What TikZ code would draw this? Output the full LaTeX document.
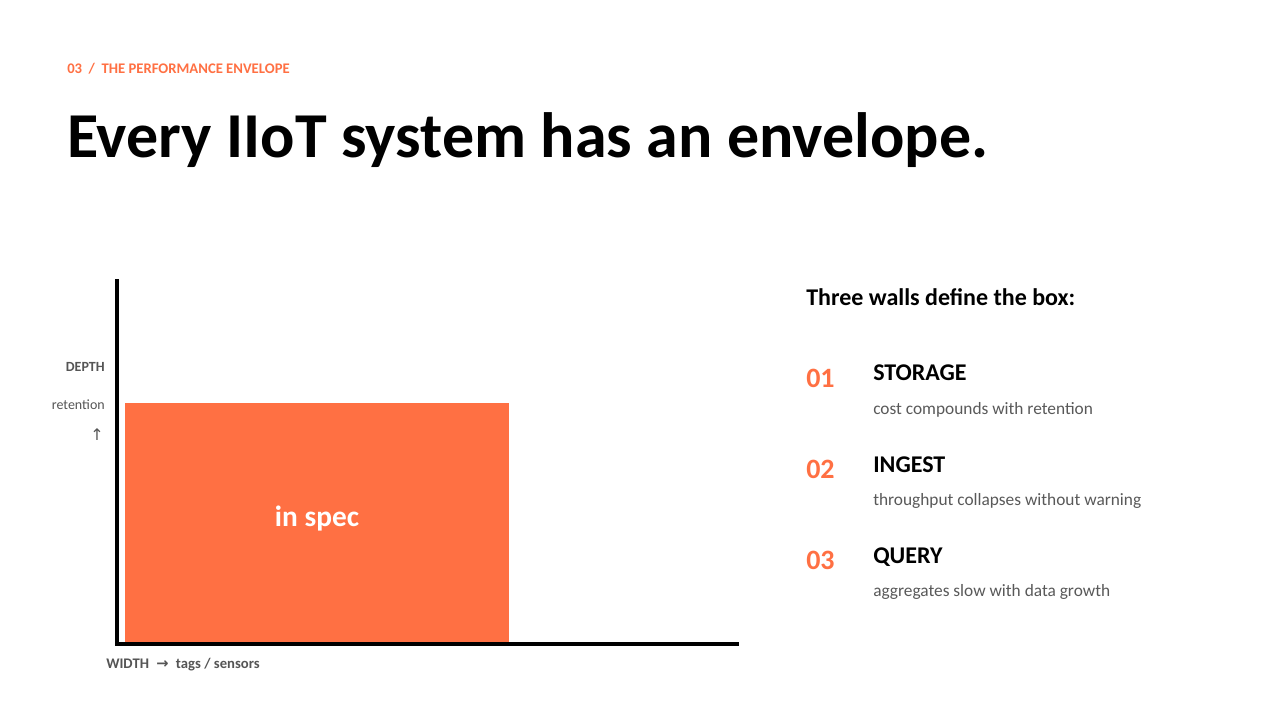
\documentclass[tikz,border=0pt]{standalone}
\usepackage{fontspec}
\setmainfont{Carlito}
\newfontfamily\symfont{DejaVu Sans}
\definecolor{accent}{HTML}{FF7043}
\definecolor{bodygray}{HTML}{595959}
\definecolor{labelgray}{HTML}{555555}
\tikzset{
  px/.style={x=0.75pt,y=-0.75pt},
  kicker/.style={anchor=west,inner sep=0pt,text=accent,font=\fontsize{11}{13}\selectfont\bfseries},
  title/.style={anchor=base west,inner sep=0pt,font=\fontsize{48}{58}\selectfont\bfseries},
  axislabel/.style={inner sep=0pt,text=labelgray,font=\fontsize{10.5}{12}\selectfont},
  axis/.style={line width=3pt},
  heading/.style={anchor=west,inner sep=0pt,font=\fontsize{18}{22}\selectfont\bfseries},
  num/.style={anchor=west,inner sep=0pt,text=accent,font=\fontsize{21}{25}\selectfont\bfseries},
  wall/.style={anchor=west,inner sep=0pt,font=\fontsize{18}{22}\selectfont\bfseries},
  desc/.style={anchor=west,inner sep=0pt,text=bodygray,font=\fontsize{13}{16}\selectfont},
}
\begin{document}
\begin{tikzpicture}[px]
\useasboundingbox[fill=white] (0,0) rectangle (1280,720);
\node[kicker] (kick) at (67,69) {03\hspace{0.45em}/\hspace{0.45em}THE PERFORMANCE ENVELOPE};
\node[title] (ttl) at (67,158) {Every IIoT system has an envelope.};
% chart
\fill[accent] (125,403) rectangle (509,642);
\node[text=white,font=\fontsize{22}{26}\selectfont\bfseries] (spec) at (317,519) {in spec};
\coordinate (ytop) at (117,279);
\coordinate (origin) at (117,644);
\coordinate (xend) at (739,644);
\draw[axis] (ytop) -- (origin.center) -- (xend);
\node[axislabel,anchor=east,font=\fontsize{10.5}{12}\selectfont\bfseries] (depth) at (105,367) {DEPTH};
\node[axislabel,anchor=east] (ret) at (105,405) {retention};
\node[axislabel,anchor=east,font=\fontsize{12}{14}\symfont] (up) at (104,435) {↑};
\node[axislabel,anchor=west,font=\fontsize{11}{13}\selectfont\bfseries] (width) at (106,665) {WIDTH\hspace{0.5em}{\symfont →}\hspace{0.5em}tags / sensors};
% right
\node[heading] (head) at (806,297) {Three walls define the box:};
\node[num] (n1) at (806,378) {01};
\node[wall] (w1) at (873,373) {STORAGE};
\node[desc] (d1) at (873,410) {cost compounds with retention};
\node[num] (n2) at (806,469) {02};
\node[wall] (w2) at (873,465) {INGEST};
\node[desc] (d2) at (873,501) {throughput collapses without warning};
\node[num] (n3) at (806,560) {03};
\node[wall] (w3) at (873,557) {QUERY};
\node[desc] (d3) at (873,592) {aggregates slow with data growth};
\end{tikzpicture}
\end{document}
